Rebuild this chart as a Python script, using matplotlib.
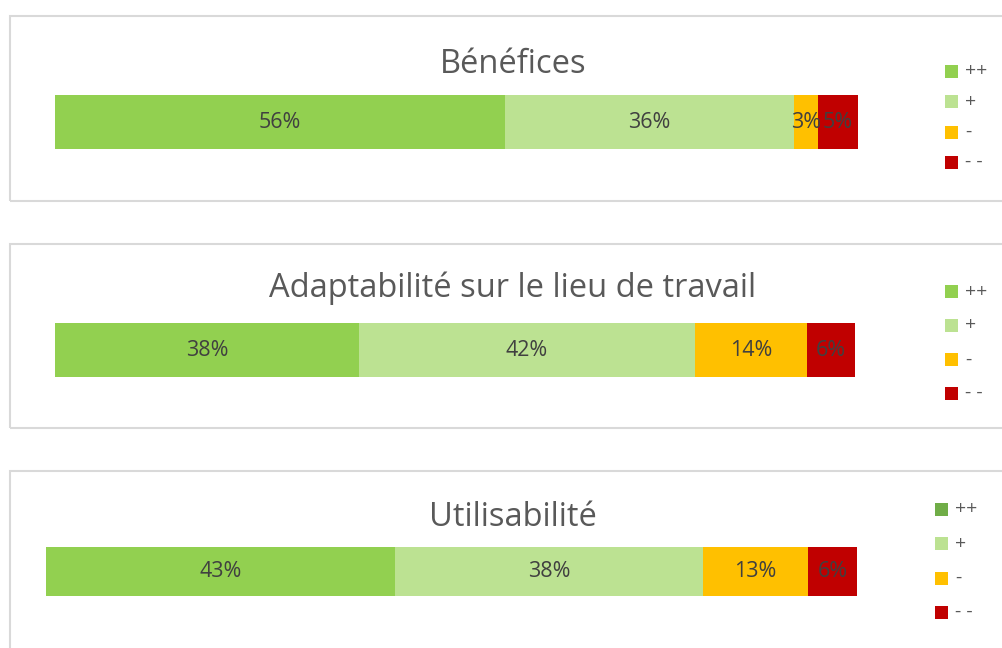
import matplotlib
matplotlib.use("Agg")
import matplotlib.pyplot as plt
from matplotlib.patches import Rectangle

plt.rcParams['font.family'] = ['Open Sans', 'DejaVu Sans']

titles = ["Bénéfices", "Adaptabilité sur le lieu de travail", "Utilisabilité"]
categories = ["++", "+", "-", "- -"]
beneficesVals = [56, 36, 3, 5]
adaptVals = [38, 42, 14, 6]
utilVals = [43, 38, 13, 6]
allVals = [beneficesVals, adaptVals, utilVals]

barColors = ["#92D050", "#BCE292", "#FFC000", "#C00000"]
legendFirst = ["#92D050", "#92D050", "#70AD47"]

W, H = 1003, 648
fig = plt.figure(figsize=(W / 100, H / 100), dpi=100)

def fx(px):
    return px / W

def fy(py):
    return 1 - py / H

# panel boxes (top, bottom in pixels), bars (left, right, top, bottom)
boxes = [(16, 201), (244, 428), (471, 660)]
bars = [(55, 858, 95, 149), (55, 855, 323, 377), (46, 857, 547, 596)]
titleBase = [73, 297, 526]
legX = [945, 945, 935]
legTop = [65, 285, 503]
legStep = [30.3, 34, 34.3]

for i in range(3):
    top, bot = boxes[i]
    fig.patches.append(Rectangle((fx(10), fy(bot)), fx(1100), fy(top) - fy(bot),
                                 transform=fig.transFigure, fill=False,
                                 edgecolor="#D9D9D9", linewidth=1.5))

    l, r, t, b = bars[i]
    ax = fig.add_axes([fx(l), fy(b), fx(r - l), fy(t) - fy(b)])
    left = 0
    for j, v in enumerate(allVals[i]):
        ax.barh(0, v, left=left, height=1, color=barColors[j], linewidth=0)
        ax.text(left + v / 2, 0, f"{v}%", ha="center", va="center",
                fontsize=15.5, color="#404040")
        left += v
    ax.set_xlim(0, 100)
    ax.set_ylim(-0.5, 0.5)
    ax.axis("off")

    fig.text(fx(513), fy(titleBase[i]), titles[i], ha="center", va="baseline",
             fontsize=23.5, color="#595959")

    # legend
    for j, cat in enumerate(categories):
        c = legendFirst[i] if j == 0 else barColors[j]
        y0 = legTop[i] + j * legStep[i]
        fig.patches.append(Rectangle((fx(legX[i]), fy(y0 + 13)), fx(13), fy(y0) - fy(y0 + 13),
                                     transform=fig.transFigure, facecolor=c, edgecolor="none"))
        fig.text(fx(legX[i] + 20), fy(y0 + 6.5), cat, ha="left", va="center",
                 fontsize=14, color="#595959")

fig.savefig("out.png", dpi=100)
